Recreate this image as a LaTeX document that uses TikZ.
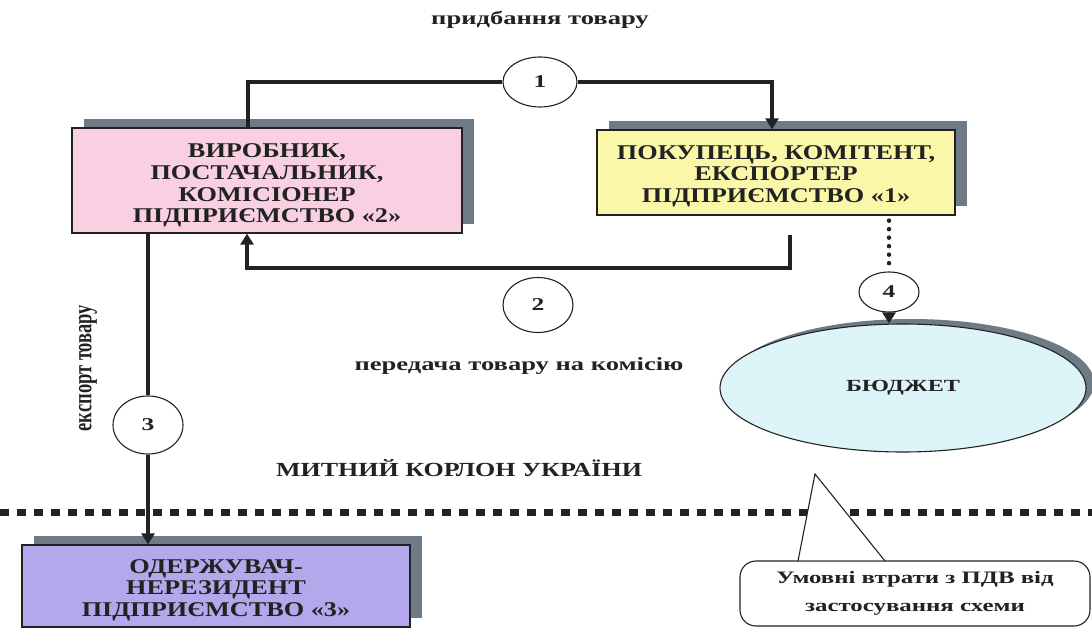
\documentclass[tikz,border=0pt]{standalone}
\usepackage{graphicx}
\usepackage{fontspec}
\setmainfont{Liberation Serif}[FakeStretch=1.42]
\newfontfamily\plainserif{Liberation Serif}
\newfontfamily\boxfont{Liberation Serif}[FakeStretch=1.25]
\newfontfamily\borderfont{Liberation Serif}[FakeStretch=1.3]
\usetikzlibrary{arrows.meta,shapes.geometric,shadows}

\definecolor{inkdark}{HTML}{222222}
\definecolor{shadowgray}{HTML}{6E7B86}
\definecolor{pinkfill}{HTML}{F9D0E1}
\definecolor{yellowfill}{HTML}{FBF7A9}
\definecolor{violetfill}{HTML}{B4A8EC}
\definecolor{cyanfill}{HTML}{DDF5F8}

\tikzset{
  every node/.style={text=inkdark, font=\bfseries},
  entity/.style={draw=inkdark, line width=1.3pt, inner sep=0pt,
    drop shadow={shadow xshift=12pt, shadow yshift=9pt, fill=shadowgray, opacity=1}},
  entitytext/.style={align=center, inner sep=0pt,
    font=\boxfont\fontsize{21}{21.7}\selectfont\bfseries},
  stage/.style={draw=inkdark, line width=1.1pt, ellipse, fill=white, inner sep=0pt,
    font=\fontsize{18}{20}\selectfont\bfseries},
  flow/.style={draw=inkdark, line width=3.6pt},
  flowarrow/.style={flow, -{Triangle[width=13pt,length=11pt]}},
  caption/.style={font=\fontsize{18.7}{21}\selectfont\bfseries},
}

\begin{document}
\begin{tikzpicture}[x=1pt, y=-1pt]
\useasboundingbox (0,0) rectangle (1092,631);

% customs border line
\draw[draw=inkdark, line width=7pt, dash pattern=on 9pt off 8pt] (0,512) -- (1092,512);

% participants
\node[entity, fill=pinkfill, minimum width=390pt, minimum height=105pt] (prod) at (267,180.5) {};
\node[entitytext] (prodtext) at ([yshift=-5pt]prod.center)
  {ВИРОБНИК,\\ПОСТАЧАЛЬНИК,\\КОМІСІОНЕР\\ПІДПРИЄМСТВО «2»};
\node[entity, fill=yellowfill, minimum width=358pt, minimum height=85pt] (buyer) at (776,172.5) {};
\node[entitytext] (buyertext) at ([yshift=-3.5pt]buyer.center)
  {ПОКУПЕЦЬ, КОМІТЕНТ,\\ЕКСПОРТЕР\\ПІДПРИЄМСТВО «1»};
\node[entity, fill=violetfill, minimum width=388pt, minimum height=82pt] (recv) at (216,586) {};
\node[entitytext] (recvtext) at ([yshift=-4pt]recv.center)
  {ОДЕРЖУВАЧ-\\НЕРЕЗИДЕНТ\\ПІДПРИЄМСТВО «3»};
\node[draw=inkdark, line width=1.1pt, ellipse, fill=cyanfill, minimum width=366pt, minimum height=128pt,
  inner sep=0pt, font=\fontsize{17}{20}\selectfont\bfseries,
  drop shadow={shadow xshift=8pt, shadow yshift=5pt, fill=shadowgray, opacity=1}] (budget) at (903,388) {БЮДЖЕТ};

% numbered stages
\node[stage, minimum width=74pt, minimum height=50pt] (s1) at (540,82) {1};
\node[stage, minimum width=70pt, minimum height=55pt] (s2) at (538,305) {2};
\node[stage, minimum width=70pt, minimum height=58pt] (s3) at (148,425) {3};
\node[stage, minimum width=60pt, minimum height=40pt] (s4) at (889,292) {4};

% captions
\node[caption] (tbuy) at (540,20) {придбання товару};
\node[caption] (tcom) at (519,366) {передача товару на комісію};
\node[rotate=90, inner sep=0pt] (texp) at (88,368)
  {\scalebox{1}[1.42]{\plainserif\fontsize{18.5}{21}\selectfont\bfseries експорт товару}};
\node[font=\borderfont\fontsize{20}{22}\selectfont\bfseries] (tborder) at (459,468) {МИТНИЙ КОРЛОН УКРАЇНИ};

% 1: purchase of goods
\draw[flow] ([xshift=-19pt]prod.north) |- (s1.west);
\draw[flowarrow] (s1.east) -| ([xshift=-4pt]buyer.north);

% 2: goods passed on commission
\coordinate (retstart) at (790,235);
\draw[flowarrow] (retstart) -- ++(0,33) -| ([xshift=-20pt]prod.south);

% 3: export of goods
\draw[flow] ([xshift=-119pt]prod.south) -- (s3.north);
\draw[flowarrow] (s3.south) -- ([xshift=-68pt]recv.north);

% 4: tax to budget
\draw[draw=inkdark, line width=4.5pt, dash pattern=on 0pt off 8.5pt, line cap=round]
  ([yshift=-5pt]buyer.south -| s4.north) -- (s4.north);
\draw[flowarrow] (s4.south) -- (s4.south |- budget.north);

% callout with VAT losses
\node[draw=inkdark, line width=1.1pt, rounded corners=16pt, fill=white, minimum width=350pt,
  minimum height=65pt, align=center, font=\fontsize{17.5}{28}\selectfont\bfseries] (loss) at (915,593.5)
  {Умовні втрати з ПДВ від\\застосування схеми};
\coordinate (tip) at (815,474);
\coordinate (pl) at (798,561);
\coordinate (pr) at (885,561);
\fill[white] ([yshift=1pt]pl) -- (tip) -- ([yshift=1pt]pr) -- cycle;
\draw[draw=inkdark, line width=1.1pt, line join=miter] (pl) -- (tip) -- (pr);
\end{tikzpicture}
\end{document}
